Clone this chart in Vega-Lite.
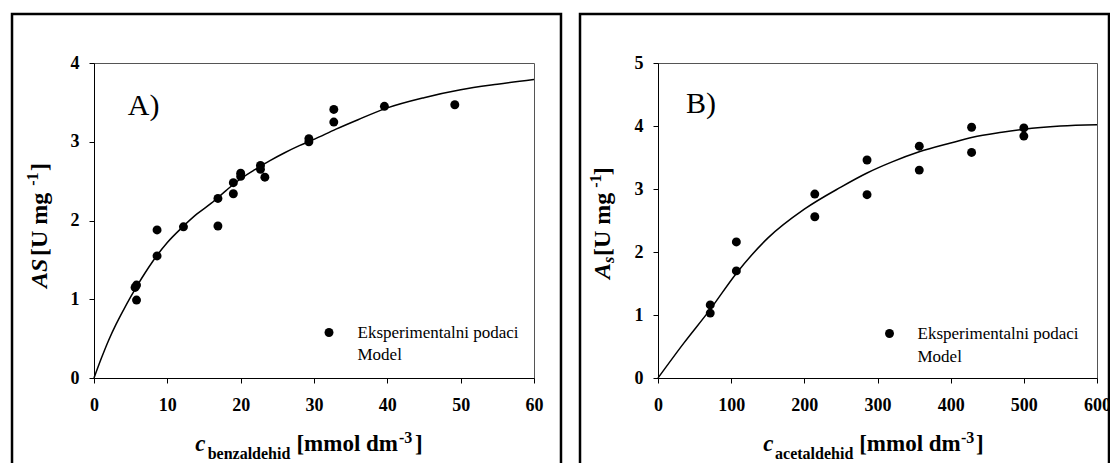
{
  "$schema": "https://vega.github.io/schema/vega-lite/v6.json",
  "padding": {"left": 10, "top": 12, "right": 0, "bottom": 0},
  "spacing": 15,
  "config": {
    "font": "Liberation Serif",
    "view": {"stroke": "#555", "strokeWidth": 1},
    "axis": {"domainColor": "black", "domainWidth": 1, "tickColor": "black", "tickSize": 5, "labelFont": "Liberation Serif", "labelFontSize": 18, "labelFontWeight": "bold", "labelColor": "black", "grid": false, "labelFlush": false, "labelOverlap": false, "format": "d"},
    "axisX": {"labelPadding": 13},
    "axisY": {"labelPadding": 10},
    "text": {"color": "black", "font": "Liberation Serif"}
  },
  "datasets": {
    "benz_points": [
      {"c": 5.6, "A": 1.15, "series": "Eksperimentalni podaci"},
      {"c": 5.8, "A": 1.18, "series": "Eksperimentalni podaci"},
      {"c": 5.8, "A": 0.99, "series": "Eksperimentalni podaci"},
      {"c": 8.6, "A": 1.88, "series": "Eksperimentalni podaci"},
      {"c": 8.6, "A": 1.55, "series": "Eksperimentalni podaci"},
      {"c": 12.2, "A": 1.92, "series": "Eksperimentalni podaci"},
      {"c": 16.9, "A": 2.28, "series": "Eksperimentalni podaci"},
      {"c": 16.9, "A": 1.93, "series": "Eksperimentalni podaci"},
      {"c": 19.0, "A": 2.48, "series": "Eksperimentalni podaci"},
      {"c": 19.0, "A": 2.34, "series": "Eksperimentalni podaci"},
      {"c": 20.0, "A": 2.60, "series": "Eksperimentalni podaci"},
      {"c": 20.0, "A": 2.56, "series": "Eksperimentalni podaci"},
      {"c": 22.7, "A": 2.70, "series": "Eksperimentalni podaci"},
      {"c": 22.7, "A": 2.65, "series": "Eksperimentalni podaci"},
      {"c": 23.3, "A": 2.55, "series": "Eksperimentalni podaci"},
      {"c": 29.3, "A": 3.04, "series": "Eksperimentalni podaci"},
      {"c": 29.3, "A": 3.00, "series": "Eksperimentalni podaci"},
      {"c": 32.7, "A": 3.41, "series": "Eksperimentalni podaci"},
      {"c": 32.7, "A": 3.25, "series": "Eksperimentalni podaci"},
      {"c": 39.6, "A": 3.45, "series": "Eksperimentalni podaci"},
      {"c": 49.2, "A": 3.47, "series": "Eksperimentalni podaci"}
    ],
    "benz_model": [
      {"c": 0, "A": 0, "series": "Model"},
      {"c": 1, "A": 0.25, "series": "Model"},
      {"c": 2, "A": 0.48, "series": "Model"},
      {"c": 3, "A": 0.68, "series": "Model"},
      {"c": 4, "A": 0.86, "series": "Model"},
      {"c": 5, "A": 1.03, "series": "Model"},
      {"c": 6, "A": 1.19, "series": "Model"},
      {"c": 7, "A": 1.34, "series": "Model"},
      {"c": 8, "A": 1.48, "series": "Model"},
      {"c": 10, "A": 1.72, "series": "Model"},
      {"c": 12, "A": 1.91, "series": "Model"},
      {"c": 14, "A": 2.08, "series": "Model"},
      {"c": 16, "A": 2.22, "series": "Model"},
      {"c": 18, "A": 2.38, "series": "Model"},
      {"c": 20, "A": 2.53, "series": "Model"},
      {"c": 22, "A": 2.65, "series": "Model"},
      {"c": 24, "A": 2.76, "series": "Model"},
      {"c": 26, "A": 2.86, "series": "Model"},
      {"c": 28, "A": 2.95, "series": "Model"},
      {"c": 30, "A": 3.03, "series": "Model"},
      {"c": 33, "A": 3.16, "series": "Model"},
      {"c": 36, "A": 3.28, "series": "Model"},
      {"c": 40, "A": 3.43, "series": "Model"},
      {"c": 45, "A": 3.56, "series": "Model"},
      {"c": 50, "A": 3.66, "series": "Model"},
      {"c": 55, "A": 3.73, "series": "Model"},
      {"c": 60, "A": 3.79, "series": "Model"}
    ],
    "acet_points": [
      {"c": 71.4, "A": 1.16, "series": "Eksperimentalni podaci"},
      {"c": 71.4, "A": 1.03, "series": "Eksperimentalni podaci"},
      {"c": 107.1, "A": 2.16, "series": "Eksperimentalni podaci"},
      {"c": 107.1, "A": 1.70, "series": "Eksperimentalni podaci"},
      {"c": 214.3, "A": 2.92, "series": "Eksperimentalni podaci"},
      {"c": 214.3, "A": 2.56, "series": "Eksperimentalni podaci"},
      {"c": 285.7, "A": 3.46, "series": "Eksperimentalni podaci"},
      {"c": 285.7, "A": 2.91, "series": "Eksperimentalni podaci"},
      {"c": 357.1, "A": 3.68, "series": "Eksperimentalni podaci"},
      {"c": 357.1, "A": 3.30, "series": "Eksperimentalni podaci"},
      {"c": 428.6, "A": 3.98, "series": "Eksperimentalni podaci"},
      {"c": 428.6, "A": 3.58, "series": "Eksperimentalni podaci"},
      {"c": 500, "A": 3.97, "series": "Eksperimentalni podaci"},
      {"c": 500, "A": 3.84, "series": "Eksperimentalni podaci"}
    ],
    "acet_model": [
      {"c": 0, "A": 0, "series": "Model"},
      {"c": 35, "A": 0.55, "series": "Model"},
      {"c": 71.4, "A": 1.09, "series": "Model"},
      {"c": 107, "A": 1.66, "series": "Model"},
      {"c": 150, "A": 2.22, "series": "Model"},
      {"c": 200, "A": 2.68, "series": "Model"},
      {"c": 250, "A": 3.03, "series": "Model"},
      {"c": 285, "A": 3.25, "series": "Model"},
      {"c": 320, "A": 3.43, "series": "Model"},
      {"c": 357, "A": 3.59, "series": "Model"},
      {"c": 400, "A": 3.73, "series": "Model"},
      {"c": 430, "A": 3.82, "series": "Model"},
      {"c": 470, "A": 3.90, "series": "Model"},
      {"c": 500, "A": 3.95, "series": "Model"},
      {"c": 550, "A": 4.00, "series": "Model"},
      {"c": 600, "A": 4.02, "series": "Model"}
    ]
  },
  "resolve": {"scale": {"color": "independent"}, "legend": {"color": "independent"}},
  "hconcat": [
    {
      "width": 440,
      "height": 315,
      "layer": [
        {
          "data": {"name": "benz_model"},
          "mark": {"type": "line", "color": "black", "strokeWidth": 1.5, "interpolate": "monotone"},
          "encoding": {
            "x": {"field": "c", "type": "quantitative", "scale": {"domain": [0, 60], "nice": false, "zero": true}, "axis": {"title": null, "values": [0, 10, 20, 30, 40, 50, 60]}},
            "y": {"field": "A", "type": "quantitative", "scale": {"domain": [0, 4], "nice": false, "zero": true}, "axis": {"title": null, "values": [0, 1, 2, 3, 4]}},
            "color": {"field": "series", "type": "nominal", "scale": {"domain": ["Eksperimentalni podaci", "Model"], "range": ["black", "black"]},
              "legend": {"title": null, "orient": "none", "legendX": 226.5, "legendY": 261, "symbolType": "circle", "symbolSize": 80, "symbolFillColor": "black", "symbolStrokeWidth": 0, "labelFont": "Liberation Serif", "labelFontSize": 17, "labelColor": "black", "labelOffset": 20, "labelLimit": 0, "rowPadding": 4, "padding": 0,
                "encode": {"symbols": {"update": {"opacity": {"signal": "datum.value === 'Model' ? 0 : 1"}}}}}}
          }
        },
        {
          "data": {"name": "benz_points"},
          "mark": {"type": "point", "filled": true, "shape": "circle", "size": 80, "opacity": 1},
          "encoding": {
            "x": {"field": "c", "type": "quantitative"},
            "y": {"field": "A", "type": "quantitative"},
            "color": {"field": "series", "type": "nominal"}
          }
        },
        {
          "data": {"values": [{}]},
          "mark": {"type": "rect", "filled": false, "stroke": "black", "strokeWidth": 2.5},
          "encoding": {"x": {"datum": -11.18}, "x2": {"datum": 63.68}, "y": {"datum": 4.622}, "y2": {"datum": -1.3}}
        },
        {
          "data": {"values": [{}]},
          "mark": {"type": "text", "text": "A)", "fontSize": 30, "align": "left", "baseline": "alphabetic"},
          "encoding": {"x": {"datum": 4.6}, "y": {"datum": 3.34}}
        },
        {
          "data": {"values": [{}]},
          "mark": {"type": "text", "text": "c", "fontSize": 23, "fontWeight": "bold", "fontStyle": "italic", "align": "left", "baseline": "alphabetic"},
          "encoding": {"x": {"datum": 13.8}, "y": {"datum": -0.927}}
        },
        {
          "data": {"values": [{}]},
          "mark": {"type": "text", "text": "benzaldehid", "fontSize": 16, "fontWeight": "bold", "align": "left", "baseline": "alphabetic"},
          "encoding": {"x": {"datum": 15.5}, "y": {"datum": -1.029}}
        },
        {
          "data": {"values": [{}]},
          "mark": {"type": "text", "text": "[mmol dm", "fontSize": 23, "fontWeight": "bold", "align": "left", "baseline": "alphabetic"},
          "encoding": {"x": {"datum": 27.6}, "y": {"datum": -0.927}}
        },
        {
          "data": {"values": [{}]},
          "mark": {"type": "text", "text": "-3", "fontSize": 16, "fontWeight": "bold", "align": "left", "baseline": "alphabetic"},
          "encoding": {"x": {"datum": 41.59}, "y": {"datum": -0.825}}
        },
        {
          "data": {"values": [{}]},
          "mark": {"type": "text", "text": "]", "fontSize": 23, "fontWeight": "bold", "align": "left", "baseline": "alphabetic"},
          "encoding": {"x": {"datum": 43.77}, "y": {"datum": -0.927}}
        },
        {
          "data": {"values": [{}]},
          "mark": {"type": "text", "text": "AS", "fontSize": 24, "fontWeight": "bold", "fontStyle": "italic", "angle": 270, "align": "left", "baseline": "alphabetic"},
          "encoding": {"x": {"datum": -6.4}, "y": {"datum": 1.143}}
        },
        {
          "data": {"values": [{}]},
          "mark": {"type": "text", "text": " [U mg", "fontSize": 24, "fontWeight": "bold", "angle": 270, "align": "left", "baseline": "alphabetic"},
          "encoding": {"x": {"datum": -6.4}, "y": {"datum": 1.549}}
        },
        {
          "data": {"values": [{}]},
          "mark": {"type": "text", "text": "-1", "fontSize": 16, "fontWeight": "bold", "angle": 270, "align": "left", "baseline": "alphabetic"},
          "encoding": {"x": {"datum": -7.6}, "y": {"datum": 2.44}}
        },
        {
          "data": {"values": [{}]},
          "mark": {"type": "text", "text": "]", "fontSize": 24, "fontWeight": "bold", "angle": 270, "align": "left", "baseline": "alphabetic"},
          "encoding": {"x": {"datum": -6.4}, "y": {"datum": 2.63}}
        }
      ]
    },
    {
      "width": 439,
      "height": 315,
      "layer": [
        {
          "data": {"name": "acet_model"},
          "mark": {"type": "line", "color": "black", "strokeWidth": 1.5, "interpolate": "monotone"},
          "encoding": {
            "x": {"field": "c", "type": "quantitative", "scale": {"domain": [0, 600], "nice": false, "zero": true}, "axis": {"title": null, "values": [0, 100, 200, 300, 400, 500, 600]}},
            "y": {"field": "A", "type": "quantitative", "scale": {"domain": [0, 5], "nice": false, "zero": true}, "axis": {"title": null, "values": [0, 1, 2, 3, 4, 5]}},
            "color": {"field": "series", "type": "nominal", "scale": {"domain": ["Eksperimentalni podaci", "Model"], "range": ["black", "black"]},
              "legend": {"title": null, "orient": "none", "legendX": 223, "legendY": 262, "symbolType": "circle", "symbolSize": 80, "symbolFillColor": "black", "symbolStrokeWidth": 0, "labelFont": "Liberation Serif", "labelFontSize": 17, "labelColor": "black", "labelOffset": 19.5, "labelLimit": 0, "rowPadding": 5, "padding": 0,
                "encode": {"symbols": {"update": {"opacity": {"signal": "datum.value === 'Model' ? 0 : 1"}}}}}}
          }
        },
        {
          "data": {"name": "acet_points"},
          "mark": {"type": "point", "filled": true, "shape": "circle", "size": 80, "opacity": 1},
          "encoding": {
            "x": {"field": "c", "type": "quantitative"},
            "y": {"field": "A", "type": "quantitative"},
            "color": {"field": "series", "type": "nominal"}
          }
        },
        {
          "data": {"values": [{}]},
          "mark": {"type": "rect", "filled": false, "stroke": "black", "strokeWidth": 2.5},
          "encoding": {"x": {"datum": -106.6}, "x2": {"datum": 616.4}, "y": {"datum": 5.778}, "y2": {"datum": -1.8}}
        },
        {
          "data": {"values": [{}]},
          "mark": {"type": "text", "text": "B)", "fontSize": 30, "align": "left", "baseline": "alphabetic"},
          "encoding": {"x": {"datum": 38.3}, "y": {"datum": 4.206}}
        },
        {
          "data": {"values": [{}]},
          "mark": {"type": "text", "text": "c", "fontSize": 23, "fontWeight": "bold", "fontStyle": "italic", "align": "left", "baseline": "alphabetic"},
          "encoding": {"x": {"datum": 144}, "y": {"datum": -1.159}}
        },
        {
          "data": {"values": [{}]},
          "mark": {"type": "text", "text": "acetaldehid", "fontSize": 16, "fontWeight": "bold", "align": "left", "baseline": "alphabetic"},
          "encoding": {"x": {"datum": 160}, "y": {"datum": -1.286}}
        },
        {
          "data": {"values": [{}]},
          "mark": {"type": "text", "text": "[mmol dm", "fontSize": 23, "fontWeight": "bold", "align": "left", "baseline": "alphabetic"},
          "encoding": {"x": {"datum": 275}, "y": {"datum": -1.159}}
        },
        {
          "data": {"values": [{}]},
          "mark": {"type": "text", "text": "-3", "fontSize": 16, "fontWeight": "bold", "align": "left", "baseline": "alphabetic"},
          "encoding": {"x": {"datum": 414.1}, "y": {"datum": -1.032}}
        },
        {
          "data": {"values": [{}]},
          "mark": {"type": "text", "text": "]", "fontSize": 23, "fontWeight": "bold", "align": "left", "baseline": "alphabetic"},
          "encoding": {"x": {"datum": 434.6}, "y": {"datum": -1.159}}
        },
        {
          "data": {"values": [{}]},
          "mark": {"type": "text", "text": "A", "fontSize": 24, "fontWeight": "bold", "fontStyle": "italic", "angle": 270, "align": "left", "baseline": "alphabetic"},
          "encoding": {"x": {"datum": -65.6}, "y": {"datum": 1.571}}
        },
        {
          "data": {"values": [{}]},
          "mark": {"type": "text", "text": "s", "fontSize": 16, "fontWeight": "bold", "fontStyle": "italic", "angle": 270, "align": "left", "baseline": "alphabetic"},
          "encoding": {"x": {"datum": -60.1}, "y": {"datum": 1.825}}
        },
        {
          "data": {"values": [{}]},
          "mark": {"type": "text", "text": " [U mg", "fontSize": 24, "fontWeight": "bold", "angle": 270, "align": "left", "baseline": "alphabetic"},
          "encoding": {"x": {"datum": -65.6}, "y": {"datum": 1.937}}
        },
        {
          "data": {"values": [{}]},
          "mark": {"type": "text", "text": "-1", "fontSize": 16, "fontWeight": "bold", "angle": 270, "align": "left", "baseline": "alphabetic"},
          "encoding": {"x": {"datum": -77.9}, "y": {"datum": 3.02}}
        },
        {
          "data": {"values": [{}]},
          "mark": {"type": "text", "text": "]", "fontSize": 24, "fontWeight": "bold", "angle": 270, "align": "left", "baseline": "alphabetic"},
          "encoding": {"x": {"datum": -65.6}, "y": {"datum": 3.22}}
        }
      ]
    }
  ]
}
